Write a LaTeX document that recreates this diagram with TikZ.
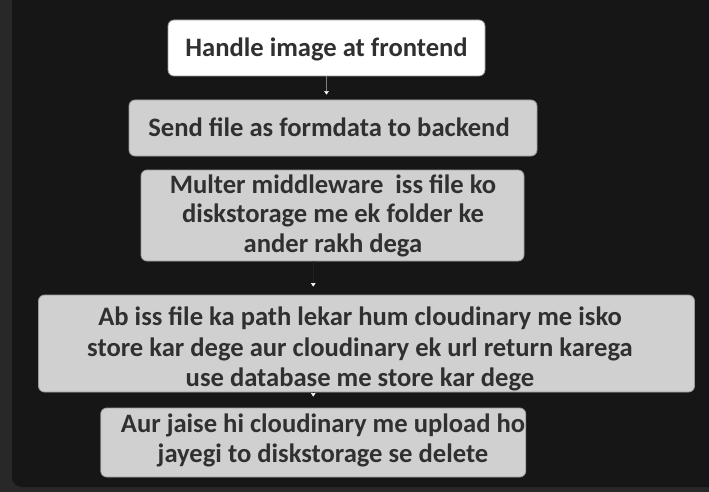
\documentclass[tikz,border=0pt]{standalone}
\usepackage{fontspec}
\setmainfont{Carlito}
\usetikzlibrary{arrows.meta,calc}
\definecolor{bgframe}{HTML}{282828}
\definecolor{bginner}{HTML}{161616}
\definecolor{boxgray}{HTML}{D0D0D0}
\definecolor{boxedge}{HTML}{9A9A9A}
\definecolor{txt}{HTML}{303030}
\definecolor{conngray}{HTML}{808080}
\definecolor{conndark}{HTML}{222222}
\begin{document}
\begin{tikzpicture}[x=1pt,y=-1pt,
  stepbox/.style={rectangle, rounded corners=6pt, fill=boxgray, draw=boxedge, line width=0.8pt, inner sep=0pt},
  steptext/.style={align=center, text=txt, inner sep=0pt, font=\bfseries\fontsize{26.6}{#1}\selectfont},
  steptext/.default=30,
  conn/.style={draw=conngray, line width=0.4pt, -{Triangle[width=4.5pt,length=3.5pt,color=white]}}
]
\useasboundingbox (0,0) rectangle (709,492);
\clip (0,0) rectangle (709,492);
\fill[bgframe] (0,0) rectangle (709,492);
\fill[bginner, rounded corners=10pt] (12,-20) rectangle (730,487);

% boxes
\node[stepbox, fill=white, minimum width=317pt, minimum height=56pt] (b1) at (326.5,48) {};
\node[stepbox, minimum width=408pt, minimum height=56pt] (b2) at (333,128) {};
\node[stepbox, minimum width=383pt, minimum height=91pt] (b3) at (332.5,215.5) {};
\node[stepbox, minimum width=656pt, minimum height=97pt] (b4) at (366.5,343.5) {};
\node[stepbox, minimum width=425pt, minimum height=69pt] (b5) at (313.25,442.5) {};

% texts
\node[steptext] (t1) at (326.5,49.3) {Handle image at frontend};
\node[steptext] (t2) at (329,127.3) {Send file as formdata to backend};
\node[steptext=29.5] (t3) at (333,215.8) {Multer middleware~ iss file ko\\diskstorage me ek folder ke\\ander rakh dega};
\node[steptext=30.5] (t4) at (360,349.3) {Ab iss file ka path lekar hum cloudinary me isko\\store kar dege aur cloudinary ek url return karega\\use database me store kar dege};
\node[steptext] (t5) at (323,440.3) {Aur jaise hi cloudinary me upload ho\\jayegi to diskstorage se delete};

% connectors
\draw[conn, shorten >=5pt] (b1.south) -- (b1.south |- b2.north);
\draw[conn, draw=conndark, shorten >=8pt] (b3.south -| b5.north) -- (b4.north -| b5.north);
\draw[conn, draw=conndark, shorten >=11pt] (b4.south -| b5.north) -- (b5.north);
\end{tikzpicture}
\end{document}
